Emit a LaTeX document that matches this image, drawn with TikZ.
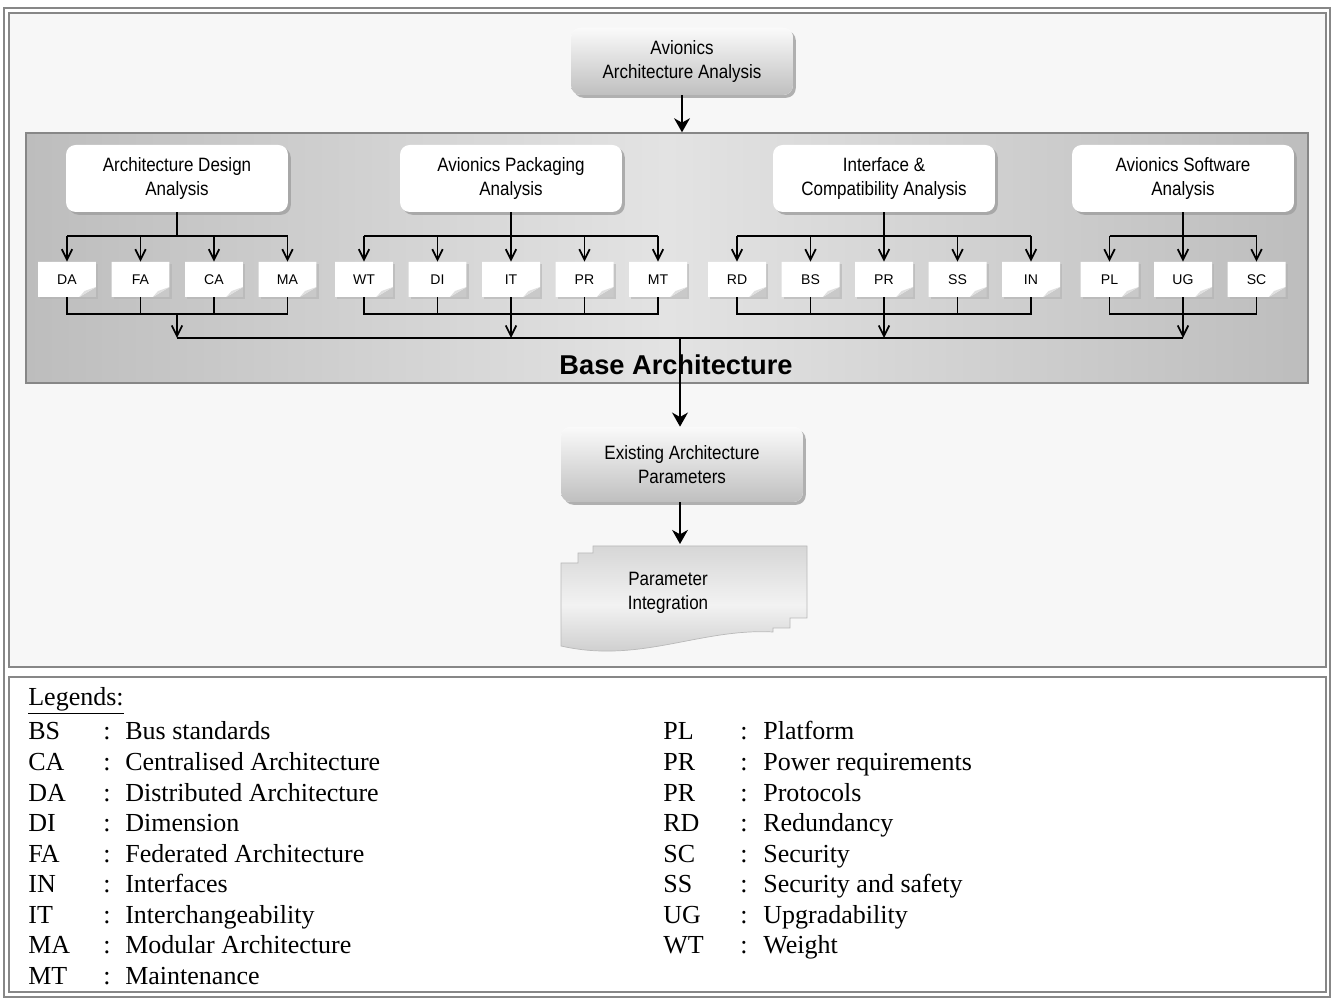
\documentclass[tikz,border=0pt]{standalone}
\usepackage{fontspec}
\setmainfont{Liberation Serif}
\newfontfamily\arialfont{Liberation Sans}
\newfontfamily\narrowfont[FakeStretch=0.88]{Liberation Sans}
\usetikzlibrary{arrows.meta,shadows}

\definecolor{panelgray}{HTML}{F7F7F7}
\definecolor{framegray}{HTML}{878787}
\definecolor{bandgray}{HTML}{BDBDBD}
\definecolor{bandlight}{HTML}{E3E3E3}

\tikzset{
  frame/.style={draw=framegray, line width=1.2pt},
  conn/.style={line width=1pt},
  smallarrow/.style={conn, -{Straight Barb[length=6pt,width=6pt]}},
  bigarrow/.style={conn, -{Stealth[length=8pt,width=9pt,inset=2.5pt]}},
  boxshadow/.style={drop shadow={shadow xshift=1.6pt, shadow yshift=-1.6pt, fill=gray!75, opacity=.8}},
  header/.style={boxshadow, fill=white, rounded corners=5.5pt, minimum width=4.44cm,
    minimum height=1.34cm, inner sep=0pt, align=center,
    font=\narrowfont\fontsize{11}{13.4}\selectfont},
  procbox/.style={header, top color=white!96!gray, bottom color=gray!50},
  docnode/.style={drop shadow={shadow xshift=1.2pt, shadow yshift=-1.2pt, fill=gray!60, opacity=.6},
    minimum width=1.16cm, minimum height=0.7cm, inner sep=0pt,
    font=\arialfont\fontsize{8}{9.6}\selectfont,
    path picture={
      \fill[gray!42] (path picture bounding box.south east) -- ([yshift=5.7pt]path picture bounding box.south east)
        -- ([xshift=-9.5pt]path picture bounding box.south east) -- cycle;
      \fill[white] (path picture bounding box.north west) -- (path picture bounding box.north east)
        -- ([yshift=5.7pt]path picture bounding box.south east) -- ([xshift=-9.5pt]path picture bounding box.south east)
        -- (path picture bounding box.south west) -- cycle;
      \fill[gray!25] ([xshift=-9.5pt]path picture bounding box.south east) -- ([yshift=5.7pt]path picture bounding box.south east)
        -- ([xshift=-6.5pt,yshift=3.4pt]path picture bounding box.south east) -- cycle;
    }},
  band/.style={draw=framegray, line width=0.8pt, left color=bandgray, right color=bandgray,
    middle color=bandlight, minimum width=25.64cm, minimum height=5cm, inner sep=0pt},
  legend/.style={inner sep=0pt, font=\fontsize{14.8}{17.4}\selectfont}
}

\begin{document}
\begin{tikzpicture}[x=0.02cm, y=-0.02cm]
  \useasboundingbox (0,0) rectangle (1332,999);

  \fill[panelgray] (9,13) rectangle (1326,667);
  \draw[frame] (9,13) rectangle (1326,667);
  \draw[frame] (9,677) rectangle (1326,992);
  \draw[frame] (4,8) rectangle (1330,997);

  \node[procbox] (top) at (682,61.5) {Avionics\\Architecture Analysis};
  \node[band] (band) at (667,258) {};
  \draw[bigarrow] (top.south) -- (top.south |- band.north);

  \node[header] (hA) at (177,178.5) {Architecture Design\\Analysis};
  \node[header] (hB) at (511,178.5) {Avionics Packaging\\Analysis};
  \node[header] (hC) at (884,178.5) {Interface \&\\Compatibility Analysis};
  \node[header] (hD) at (1183,178.5) {Avionics Software\\Analysis};

  \node[docnode] (da) at (67,279.5) {DA};
  \node[docnode] (fa) at (140.5,279.5) {FA};
  \node[docnode] (ca) at (214,279.5) {CA};
  \node[docnode] (ma) at (287.5,279.5) {MA};

  \node[docnode] (wt) at (364,279.5) {WT};
  \node[docnode] (di) at (437.5,279.5) {DI};
  \node[docnode] (it) at (511,279.5) {IT};
  \node[docnode] (pra) at (584.5,279.5) {PR};
  \node[docnode] (mt) at (658,279.5) {MT};

  \node[docnode] (rd) at (737,279.5) {RD};
  \node[docnode] (bs) at (810.5,279.5) {BS};
  \node[docnode] (prb) at (884,279.5) {PR};
  \node[docnode] (ss) at (957.5,279.5) {SS};
  \node[docnode] (in) at (1031,279.5) {IN};

  \node[docnode] (pl) at (1109.5,279.5) {PL};
  \node[docnode] (ug) at (1183,279.5) {UG};
  \node[docnode] (sc) at (1256.5,279.5) {SC};

  \coordinate (tA) at (177,236);
  \coordinate (tB) at (511,236);
  \coordinate (tC) at (884,236);
  \coordinate (tD) at (1183,236);
  \coordinate (cA) at (177,314);
  \coordinate (cB) at (511,314);
  \coordinate (cC) at (884,314);
  \coordinate (cD) at (1183,314);
  \coordinate (bus) at (680,338);

  \draw[conn] (hA.south) -- (tA);
  \draw[conn] (tA -| da) -- (tA -| ma);
  \draw[smallarrow] (tA -| da) -- (da.north);
  \draw[smallarrow] (tA -| fa) -- (fa.north);
  \draw[smallarrow] (tA -| ca) -- (ca.north);
  \draw[smallarrow] (tA -| ma) -- (ma.north);
  \draw[conn] (da.south) -- (cA -| da) -- (cA -| ma) -- (ma.south);
  \draw[conn] (fa.south) -- (cA -| fa);
  \draw[conn] (ca.south) -- (cA -| ca);
  \draw[smallarrow] (cA) -- (cA |- bus);

  \draw[conn] (hB.south) -- (tB);
  \draw[conn] (tB -| wt) -- (tB -| mt);
  \draw[smallarrow] (tB -| wt) -- (wt.north);
  \draw[smallarrow] (tB -| di) -- (di.north);
  \draw[smallarrow] (tB -| it) -- (it.north);
  \draw[smallarrow] (tB -| pra) -- (pra.north);
  \draw[smallarrow] (tB -| mt) -- (mt.north);
  \draw[conn] (wt.south) -- (cB -| wt) -- (cB -| mt) -- (mt.south);
  \draw[conn] (di.south) -- (cB -| di);
  \draw[conn] (it.south) -- (cB -| it);
  \draw[conn] (pra.south) -- (cB -| pra);
  \draw[smallarrow] (cB) -- (cB |- bus);

  \draw[conn] (hC.south) -- (tC);
  \draw[conn] (tC -| rd) -- (tC -| in);
  \draw[smallarrow] (tC -| rd) -- (rd.north);
  \draw[smallarrow] (tC -| bs) -- (bs.north);
  \draw[smallarrow] (tC -| prb) -- (prb.north);
  \draw[smallarrow] (tC -| ss) -- (ss.north);
  \draw[smallarrow] (tC -| in) -- (in.north);
  \draw[conn] (rd.south) -- (cC -| rd) -- (cC -| in) -- (in.south);
  \draw[conn] (bs.south) -- (cC -| bs);
  \draw[conn] (prb.south) -- (cC -| prb);
  \draw[conn] (ss.south) -- (cC -| ss);
  \draw[smallarrow] (cC) -- (cC |- bus);

  \draw[conn] (hD.south) -- (tD);
  \draw[conn] (tD -| pl) -- (tD -| sc);
  \draw[smallarrow] (tD -| pl) -- (pl.north);
  \draw[smallarrow] (tD -| ug) -- (ug.north);
  \draw[smallarrow] (tD -| sc) -- (sc.north);
  \draw[conn] (pl.south) -- (cD -| pl) -- (cD -| sc) -- (sc.south);
  \draw[conn] (ug.south) -- (cD -| ug);
  \draw[smallarrow] (cD) -- (cD |- bus);

  \draw[conn] (cA |- bus) -- (cD |- bus);
  \node[font=\arialfont\bfseries\fontsize{15.5}{18}\selectfont] (basearch) at (676,365) {Base Architecture};

  \node[procbox, minimum width=4.84cm, minimum height=1.5cm] (exist) at (682,464.5) {Existing Architecture\\Parameters};
  \draw[bigarrow] (bus) -- (bus |- exist.north);

  \draw[draw=gray!55, line width=0.4pt, top color=gray!32, bottom color=gray!45, middle color=gray!10]
    (561,563) -- (578,563) -- (578,553) -- (593,553) -- (593,546) -- (807,546) -- (807,618)
    -- (790,618) -- (790,628) -- (773,628) -- (773,632) .. controls (700,628) and (640,664) .. (561,646) -- cycle;
  \node[font=\narrowfont\fontsize{11}{13.4}\selectfont, align=center] (integ) at (668,593) {Parameter\\Integration};
  \coordinate (integtop) at (680,544);
  \draw[bigarrow] (bus |- exist.south) -- (integtop);

  \node[legend, anchor=base west] (legtitle) at (28,705) {\underline{Legends:}};
  \node[legend, anchor=base west] (legleft) at (28,740) {\begin{tabular}[t]{@{}p{1.5cm}@{}p{0.44cm}@{}l@{}}
    BS & : & Bus standards\\
    CA & : & Centralised Architecture\\
    DA & : & Distributed Architecture\\
    DI & : & Dimension\\
    FA & : & Federated Architecture\\
    IN & : & Interfaces\\
    IT & : & Interchangeability\\
    MA & : & Modular Architecture\\
    MT & : & Maintenance
  \end{tabular}};
  \node[legend, anchor=base west] (legright) at (663,740) {\begin{tabular}[t]{@{}p{1.54cm}@{}p{0.46cm}@{}l@{}}
    PL & : & Platform\\
    PR & : & Power requirements\\
    PR & : & Protocols\\
    RD & : & Redundancy\\
    SC & : & Security\\
    SS & : & Security and safety\\
    UG & : & Upgradability\\
    WT & : & Weight
  \end{tabular}};
\end{tikzpicture}
\end{document}
